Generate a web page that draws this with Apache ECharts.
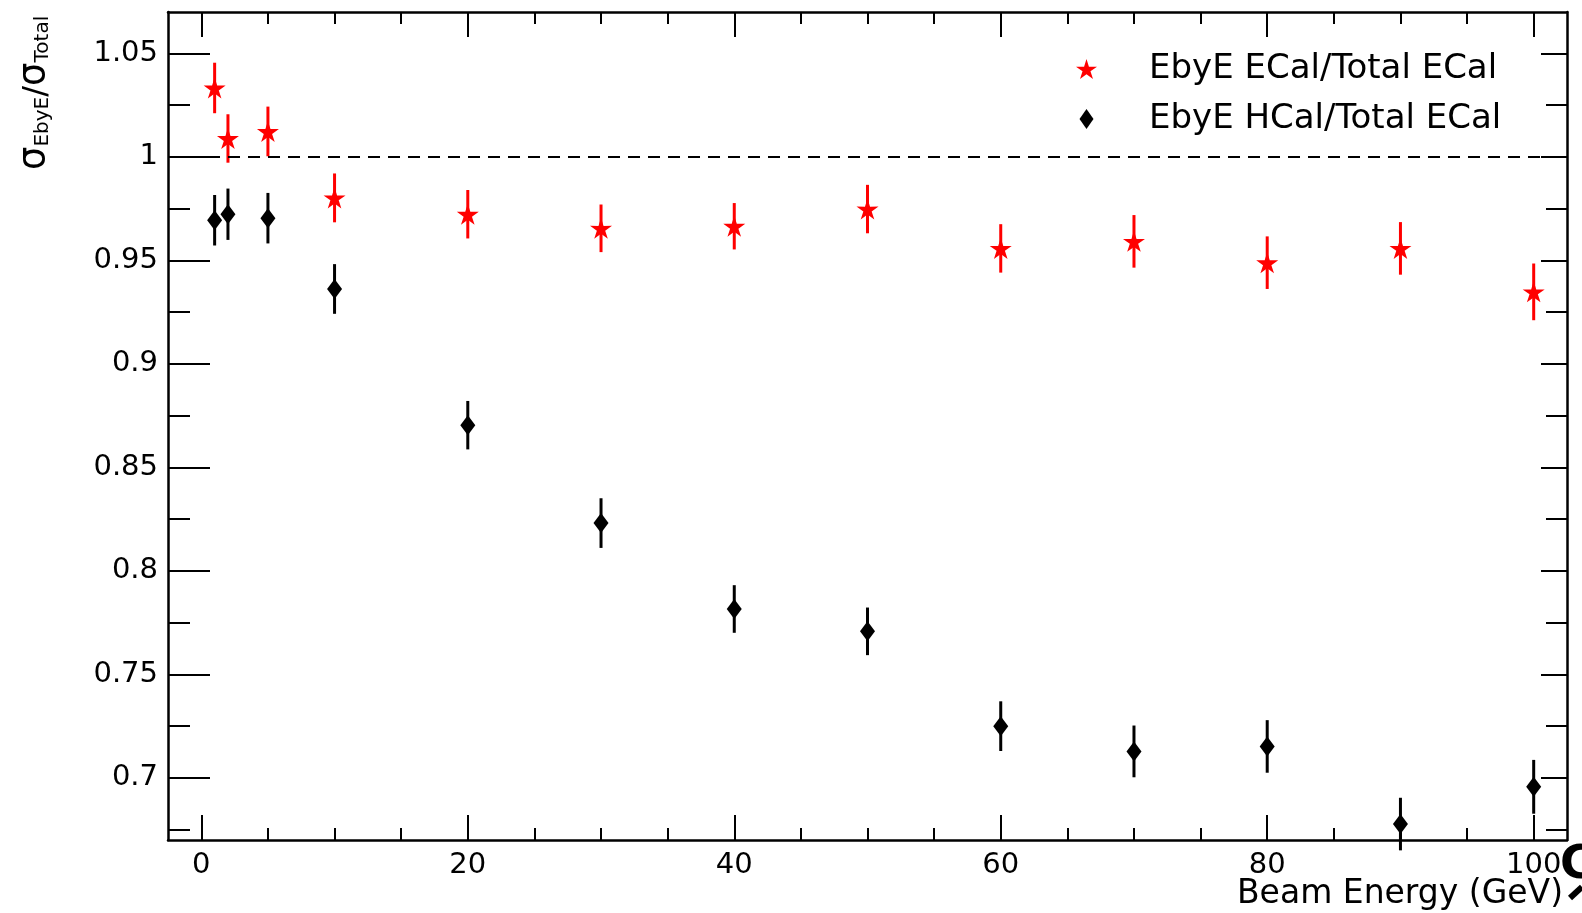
<!DOCTYPE html>
<html>
<head>
<meta charset="utf-8">
<script src="https://cdn.jsdelivr.net/npm/echarts@6/dist/echarts.min.js"></script>
<style>html,body{margin:0;padding:0;background:#fff}#c{width:1582px;height:913px}</style>
</head>
<body>
<div id="c"></div>
<script>
// ---- data ----
const beamEnergy = [1, 2, 5, 10, 20, 30, 40, 50, 60, 70, 80, 90, 100];
const ecalRatio  = [1.0333, 1.0089, 1.0123, 0.9802, 0.9723, 0.9655, 0.9665, 0.9748, 0.9558, 0.9592, 0.9489, 0.9558, 0.9348];
const ecalErr    = [0.0122, 0.0117, 0.0120, 0.0118, 0.0117, 0.0115, 0.0112, 0.0117, 0.0117, 0.0127, 0.0127, 0.0127, 0.0137];
const hcalRatio  = [0.9694, 0.9723, 0.9704, 0.9362, 0.8704, 0.8231, 0.7816, 0.7708, 0.7250, 0.7128, 0.7152, 0.6777, 0.6957];
const hcalErr    = [0.0122, 0.0124, 0.0122, 0.0120, 0.0117, 0.0120, 0.0115, 0.0115, 0.0120, 0.0125, 0.0127, 0.0127, 0.0130];
const seriesNames = ['EbyE ECal/Total ECal', 'EbyE HCal/Total ECal'];
const xMajorTicks = [0, 20, 40, 60, 80, 100];
const xMinorTicks = [5, 10, 15, 25, 30, 35, 45, 50, 55, 65, 70, 75, 85, 90, 95];
const yMajorTicks = [0.7, 0.75, 0.8, 0.85, 0.9, 0.95, 1, 1.05];
const yMinorTicks = [0.675, 0.725, 0.775, 0.825, 0.875, 0.925, 0.975, 1.025];
const xRange = [-2.5, 102.5];
const yRange = [0.67, 1.07];
const referenceLevel = 1;

const FONT = 'DejaVu Sans';
const starPath = 'path://M0,-100 L22,-30 L95.1,-30.9 L36,11.7 L58.8,80.9 L0,38 L-58.8,80.9 L-36,11.7 L-95.1,-30.9 L-22,-30 Z';
const diamondPath = 'path://M7,0 L14,10 L7,20 L0,10 Z';

const pts = (xs, ys) => xs.map((x, i) => [x, ys[i]]);
const errPts = (xs, ys, es) => xs.map((x, i) => [x, ys[i] - es[i], ys[i] + es[i]]);

function errRender(color) {
  return function (params, api) {
    const p1 = api.coord([api.value(0), api.value(1)]);
    const p2 = api.coord([api.value(0), api.value(2)]);
    return {
      type: 'line',
      shape: { x1: p1[0], y1: p1[1], x2: p2[0], y2: p2[1] },
      style: { stroke: color, lineWidth: 3 }
    };
  };
}

const lineStyle = { color: '#000', width: 2.5 };
function xAxisDef(pos, major, labels) {
  return {
    type: 'value', position: pos, min: xRange[0], max: xRange[1],
    axisLine: { show: major, onZero: false, lineStyle },
    splitLine: { show: false },
    axisTick: { show: true, inside: true, length: major ? 25 : 12, lineStyle: { color: '#000', width: 2 },
      customValues: major ? xMajorTicks : xMinorTicks },
    axisLabel: labels ? { show: true, customValues: xMajorTicks, color: '#000', fontFamily: FONT, fontSize: 29, margin: 11 } : { show: false }
  };
}
function yAxisDef(pos, major, labels) {
  const left = pos === 'left';
  return {
    type: 'value', position: pos, min: yRange[0], max: yRange[1],
    axisLine: { show: major, onZero: false, lineStyle },
    splitLine: { show: false },
    axisTick: { show: true, inside: true, length: major ? (left ? 42 : 26) : (left ? 22 : 21), lineStyle: { color: '#000', width: 2 },
      customValues: major ? yMajorTicks : yMinorTicks },
    axisLabel: labels ? { show: true, customValues: yMajorTicks, color: '#000', fontFamily: FONT, fontSize: 29, margin: 10,
      formatter: v => String(parseFloat(Number(v).toFixed(3))) } : { show: false }
  };
}

const chart = echarts.init(document.getElementById('c'), null, { renderer: 'canvas' });
chart.setOption({
  backgroundColor: '#fff',
  animation: false,
  grid: { left: 168, right: 15, top: 12, bottom: 73 },
  xAxis: [xAxisDef('bottom', true, true), xAxisDef('bottom', false, false), xAxisDef('top', true, false), xAxisDef('top', false, false)],
  yAxis: [yAxisDef('left', true, true), yAxisDef('left', false, false), yAxisDef('right', true, false), yAxisDef('right', false, false)],
  legend: {
    orient: 'vertical', left: 1071, top: 44, itemWidth: 21, itemHeight: 20, itemGap: 10,
    symbolKeepAspect: true,
    textStyle: { fontFamily: FONT, fontSize: 34, color: '#000', lineHeight: 40, padding: [0, 0, 0, 47] },
    data: seriesNames
  },
  series: [
    {
      type: 'custom', name: seriesNames[0] + ' err', renderItem: errRender('#ff0000'),
      data: errPts(beamEnergy, ecalRatio, ecalErr), z: 2, silent: true,
      markLine: {
        silent: true, symbol: 'none', label: { show: false },
        lineStyle: { color: '#000', width: 2, type: [12, 8] },
        data: [{ yAxis: referenceLevel }]
      }
    },
    {
      type: 'custom', name: seriesNames[1] + ' err', renderItem: errRender('#000000'),
      data: errPts(beamEnergy, hcalRatio, hcalErr), z: 2, silent: true
    },
    {
      type: 'scatter', name: seriesNames[0], data: pts(beamEnergy, ecalRatio),
      symbol: starPath, symbolSize: [22, 21], itemStyle: { color: '#ff0000', opacity: 1 }, z: 3
    },
    {
      type: 'scatter', name: seriesNames[1], data: pts(beamEnergy, hcalRatio),
      symbol: diamondPath, symbolSize: [15, 20], itemStyle: { color: '#000000', opacity: 1 }, z: 3
    }
  ],
  graphic: [
    {
      type: 'text', x: 53, y: 170, rotation: Math.PI / 2,
      style: {
        text: '{s|σ}{b|EbyE}{n|/}{s|σ}{b|Total}',
        align: 'left', verticalAlign: 'bottom', fill: '#000',
        rich: {
          s: { fontFamily: FONT, fontSize: 37, verticalAlign: 'bottom', fill: '#000' },
          b: { fontFamily: FONT, fontSize: 20, verticalAlign: 'bottom', fill: '#000' },
          n: { fontFamily: FONT, fontSize: 32, verticalAlign: 'bottom', fill: '#000' }
        }
      }
    },
    {
      type: 'text', x: 1563, y: 894,
      style: { text: 'Beam Energy (GeV)', align: 'right', verticalAlign: 'middle', fontFamily: FONT, fontSize: 33, fill: '#000' }
    },
    {
      type: 'text', x: 1560, y: 866,
      style: { text: 'C', align: 'left', verticalAlign: 'middle', fontFamily: FONT, fontWeight: 'bold', fontSize: 46, fill: '#000' }
    },
    {
      type: 'line', shape: { x1: 1570, y1: 898, x2: 1582, y2: 887 },
      style: { stroke: '#000', lineWidth: 6 }
    }
  ]
});
</script>
</body>
</html>
